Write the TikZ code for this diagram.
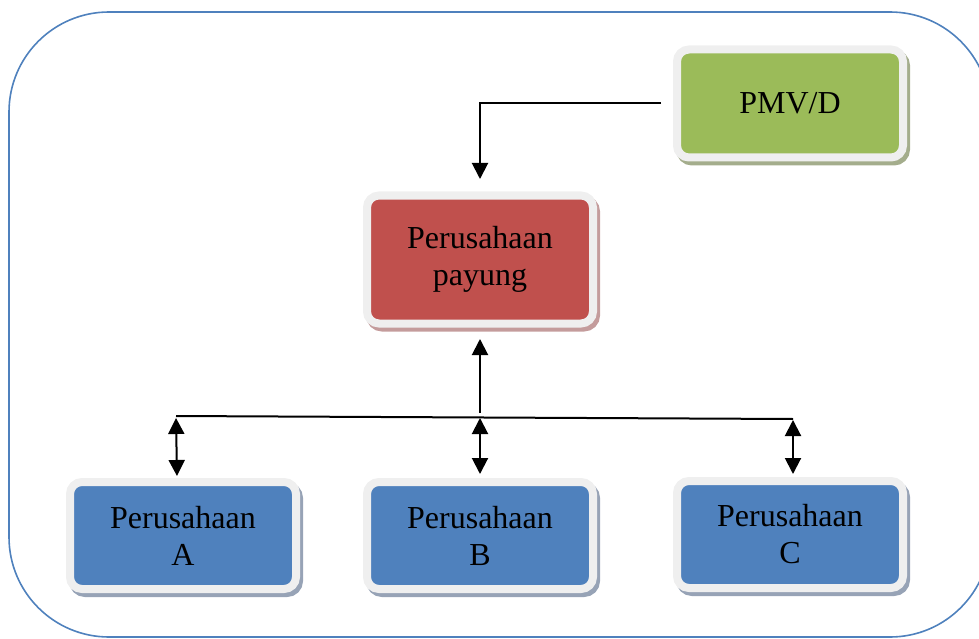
\documentclass[tikz,border=0pt]{standalone}
\usepackage{fontspec}
\setmainfont{Liberation Serif}
\usetikzlibrary{arrows.meta,shadows}

\definecolor{framecol}{HTML}{4F81BD}
\definecolor{rimcol}{HTML}{EFEFEF}
\definecolor{greenfill}{HTML}{9BBB59}
\definecolor{greenshade}{HTML}{A4AD8C}
\definecolor{redfill}{HTML}{C0504D}
\definecolor{redshade}{HTML}{C49C9C}
\definecolor{bluefill}{HTML}{4F81BD}
\definecolor{blueshade}{HTML}{97A3B6}

\tikzset{
  orgbox/.style={
    draw=rimcol, line width=8pt, rounded corners=12pt,
    minimum width=226pt, inner sep=0pt, align=center,
    font=\fontsize{32}{37}\selectfont,
    general shadow={draw=#1, fill=#1, line width=8pt,
      shadow xshift=3pt, shadow yshift=-4pt}
  },
  link/.style={line width=2pt, black},
  tip/.style={-{Triangle[width=16pt,length=16pt]}},
  dtip/.style={{Triangle[width=16pt,length=16pt]}-{Triangle[width=16pt,length=16pt]}},
}

\begin{document}
\begin{tikzpicture}[x=1pt,y=-1pt]
  \useasboundingbox (0,0) rectangle (979,639);

  % outer rounded frame
  \draw[framecol, line width=1.6pt, rounded corners=100pt] (9,12) rectangle (990,637);

  % boxes
  \node[orgbox=greenshade, fill=greenfill, minimum height=108pt] (pmv) at (790,103.5) {PMV/D};
  \node[orgbox=redshade, fill=redfill, minimum height=128pt] (payung) at (480,259.5) {Perusahaan\\payung};
  \node[orgbox=blueshade, fill=bluefill, minimum height=107pt] (pa) at (183,535.5) {Perusahaan\\A};
  \node[orgbox=blueshade, fill=bluefill, minimum height=107pt] (pb) at (480,535.5) {Perusahaan\\B};
  \node[orgbox=blueshade, fill=bluefill, minimum height=107pt] (pc) at (790,534.5) {Perusahaan\\C};

  % bus line joining the three subsidiaries
  \coordinate (busA) at (176,416);
  \coordinate (busB) at (480,417.5);
  \coordinate (busC) at (793,419);
  \draw[link] (busA) -- (busC);

  % PMV/D down to the umbrella company
  \draw[link, tip] ([xshift=-12pt]pmv.west) -| ([yshift=12.5pt]payung.north);

  % bus up to the umbrella company
  \draw[link, tip] ([yshift=5pt]busB) -- ([yshift=-11.5pt]payung.south);

  % two-way links from the bus to each company
  \draw[link, dtip] ([yshift=-2pt]busA) -- ([xshift=-6pt,yshift=2pt]pa.north);
  \draw[link, dtip] ([yshift=-0.5pt]busB) -- ([yshift=4pt]pb.north);
  \draw[link, dtip] ([yshift=-1pt]busC) -- ([xshift=3pt,yshift=3pt]pc.north);
\end{tikzpicture}
\end{document}
